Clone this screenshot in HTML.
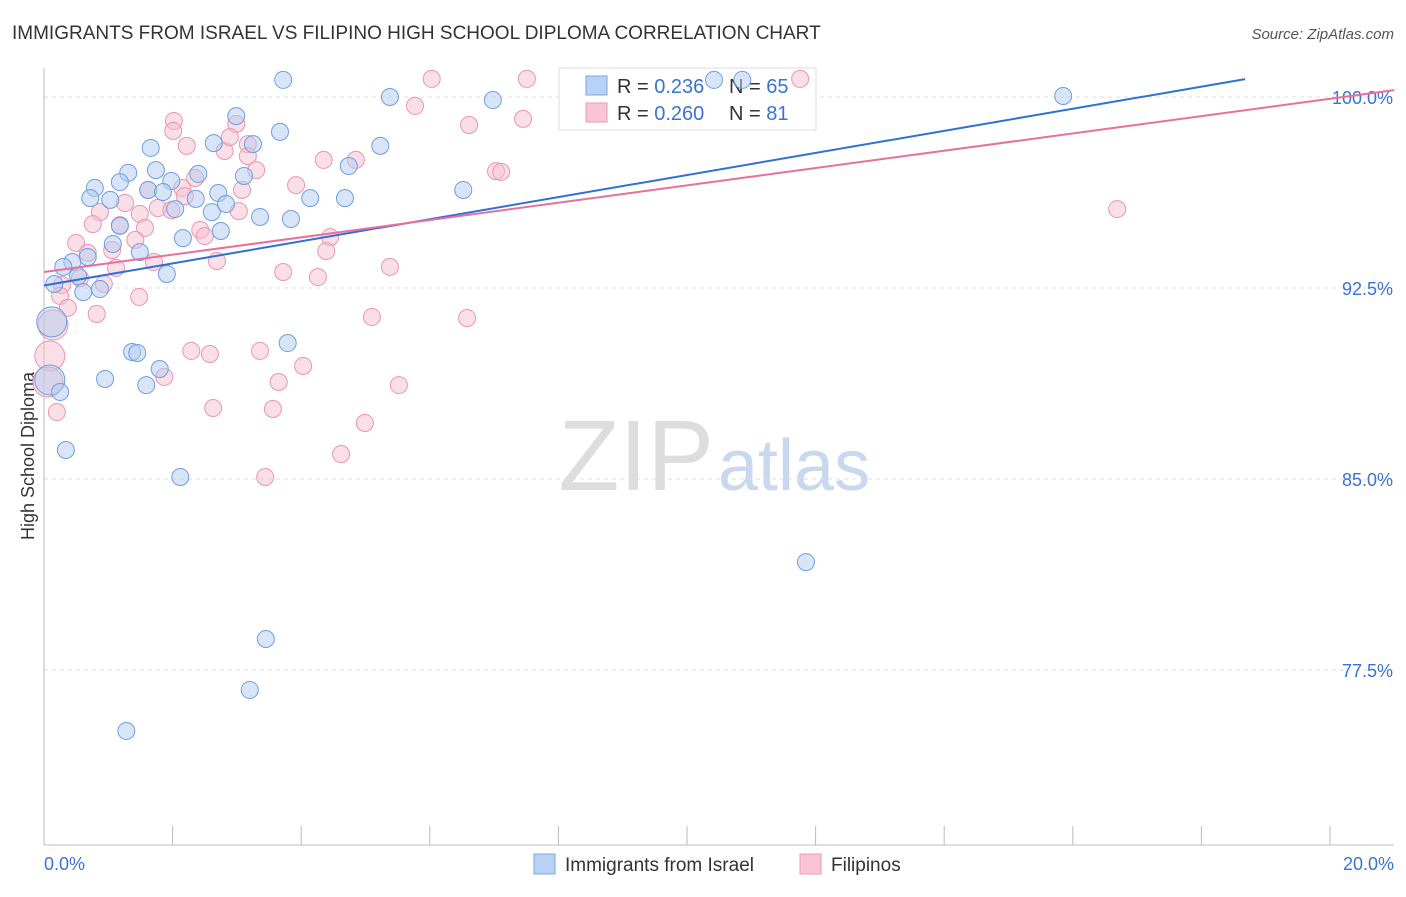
<!DOCTYPE html>
<html><head><meta charset="utf-8"><style>
body{margin:0;background:#fff;font-family:"Liberation Sans",sans-serif}
svg text{font-family:"Liberation Sans",sans-serif}
</style></head><body>
<svg id="c" width="1406" height="892">
<text x="12" y="39" font-size="19" fill="#333">IMMIGRANTS FROM ISRAEL VS FILIPINO HIGH SCHOOL DIPLOMA CORRELATION CHART</text>
<text x="1394" y="39" font-size="15" fill="#555" font-style="italic" text-anchor="end">Source: ZipAtlas.com</text>
<text x="714" y="490" font-size="100" fill="#ddd" text-anchor="end" font-family="Liberation Serif">ZIP</text>
<text x="718" y="490" font-size="72" fill="#c8d8ef">atlas</text>
<text transform="translate(34,456) rotate(-90)" font-size="18" fill="#333" text-anchor="middle">High School Diploma</text>
<g id="grid"></g>
<g>
<rect x="559" y="68" width="257" height="62" fill="#fff" stroke="#ddd"/>
<rect x="586" y="76" width="21" height="19" fill="#b9d1f5" stroke="#7aa6e6"/>
<rect x="586" y="103" width="21" height="19" fill="#f9c5d5" stroke="#eb9ab4"/>
<text x="617" y="93" font-size="20" fill="#333">R = <tspan fill="#3a73d0">0.236</tspan></text>
<text x="729" y="93" font-size="20" fill="#333">N = <tspan fill="#3a73d0">65</tspan></text>
<text x="617" y="120" font-size="20" fill="#333">R = <tspan fill="#3a73d0">0.260</tspan></text>
<text x="729" y="120" font-size="20" fill="#333">N = <tspan fill="#3a73d0"> 81</tspan></text>
</g>
<g id="marks"></g><g id="lines"></g>
<g>
<rect x="534" y="854" width="21" height="20" fill="#b9d1f5" stroke="#7aa6e6"/>
<text x="565" y="871" font-size="19" fill="#333">Immigrants from Israel</text>
<rect x="800" y="854" width="21" height="20" fill="#f9c5d5" stroke="#eb9ab4"/>
<text x="831" y="871" font-size="19" fill="#333">Filipinos</text>
</g>
</svg>
<script>
const yTicks=[100,92.5,85,77.5];
const yTickLabels=["100.0%","92.5%","85.0%","77.5%"];
const xTicks=[0,2,4,6,8,10,12,14,16,18,20];
const blueX=[3.72,10.42,10.86,15.85,5.38,6.98,2.99,3.67,2.64,3.25,5.23,1.66,4.74,1.74,1.31,2.40,1.18,0.79,1.98,1.62,1.85,2.71,3.11,0.72,1.03,4.14,4.68,6.52,2.36,2.04,2.61,2.83,3.36,3.84,1.18,2.75,2.16,1.07,1.49,0.68,0.44,0.30,0.53,1.91,0.16,0.87,0.61,0.12,3.79,1.37,1.45,1.80,0.95,1.59,0.09,0.25,0.34,2.12,11.85,3.45,3.20,1.28];
const blueY=[100.67,100.67,100.67,100.04,100.0,99.88,99.25,98.63,98.19,98.15,98.08,98.0,97.29,97.13,97.02,96.98,96.66,96.43,96.70,96.35,96.27,96.23,96.90,96.03,95.96,96.03,96.03,96.35,96.0,95.60,95.48,95.80,95.29,95.21,94.94,94.74,94.46,94.23,93.91,93.72,93.52,93.33,92.97,93.05,92.66,92.46,92.34,91.17,90.34,89.99,89.95,89.32,88.93,88.69,88.89,88.42,86.14,85.08,81.74,78.72,76.72,75.11];
const blueBig=[47,54];
const pinkX=[6.03,7.51,11.76,5.77,2.02,2.99,6.61,7.45,2.01,2.22,3.17,2.81,2.89,3.17,3.30,4.35,4.85,7.03,7.11,2.35,3.92,3.08,1.62,2.15,2.19,1.26,0.87,1.49,1.77,1.98,3.03,16.69,0.76,1.18,1.57,2.43,2.50,4.45,0.50,1.42,0.68,4.39,1.06,1.71,2.69,3.72,4.26,5.38,1.12,0.56,0.28,0.93,0.25,1.48,0.82,0.37,5.10,6.58,0.14,2.29,2.58,3.36,4.03,1.87,3.65,5.52,0.09,0.06,0.20,2.63,3.56,4.99,4.62,3.44];
const pinkY=[100.71,100.71,100.71,99.65,99.06,98.94,98.90,99.14,98.67,98.08,98.15,97.88,98.43,97.68,97.13,97.53,97.53,97.09,97.06,96.82,96.54,96.35,96.35,96.43,96.11,95.84,95.48,95.41,95.64,95.56,95.52,95.60,95.01,94.97,94.86,94.78,94.54,94.50,94.27,94.39,93.88,93.95,93.99,93.52,93.56,93.13,92.93,93.33,93.29,92.89,92.62,92.66,92.19,92.15,91.48,91.72,91.36,91.32,91.05,90.03,89.91,90.03,89.44,89.01,88.81,88.69,89.83,88.81,87.63,87.79,87.75,87.20,85.98,85.08];
const pinkBig=[58,66,67];
const blueTrend=[92.6,100.7];
const pinkTrend=[93.13,100.27];

const X=v=>44+v*64.3, Y=v=>97+(100-v)*25.47;
const NS="http://www.w3.org/2000/svg";
function mk(t,a,p){const e=document.createElementNS(NS,t);for(const k in a)e.setAttribute(k,a[k]);p.appendChild(e);return e;}
const grid=document.getElementById('grid'),marks=document.getElementById('marks'),lines=document.getElementById('lines');
yTicks.forEach((t,i)=>{
 const l=mk('line',{x1:44,x2:1394,y1:Y(t),y2:Y(t),stroke:'#ddd','stroke-dasharray':'4,4'},grid);
 
 
 const tx=mk('text',{x:1393,y:Y(t)+7,'font-size':18,fill:'#3a73d0','text-anchor':'end'},grid);
 tx.textContent=yTickLabels[i];
 
 
});
mk('line',{x1:44,x2:44,y1:68,y2:845,stroke:'#bbb'},grid);
mk('line',{x1:44,x2:1394,y1:845,y2:845,stroke:'#bbb'},grid);
xTicks.forEach(t=>{const l=mk('line',{x1:X(t),x2:X(t),y1:826,y2:845,stroke:'#bbb'},grid);
 
 });
const a=mk('text',{x:44,y:870,'font-size':18,fill:'#3a73d0'},grid);a.textContent='0.0%';


const b=mk('text',{x:1394,y:870,'font-size':18,fill:'#3a73d0','text-anchor':'end'},grid);b.textContent='20.0%';


function dots(xs,ys,big,fill,stroke,name){xs.forEach((x,i)=>{
 const c=mk('circle',{cx:X(x),cy:Y(ys[i]),r:big.includes(i)?15:8.5,fill:fill,stroke:stroke,'stroke-width':1,'fill-opacity':0.5},marks);
 
 });}
dots(pinkX,pinkY,pinkBig,'#f7bfd0','#eb94b1','filipino-point');
dots(blueX,blueY,blueBig,'#b2cbf2','#6e9ee3','israel-point');
const bl=mk('line',{x1:X(0),y1:Y(blueTrend[0]),x2:X(18.68),y2:Y(blueTrend[1]),stroke:'#2f6fd6','stroke-width':2},lines);


const pl=mk('line',{x1:X(0),y1:Y(pinkTrend[0]),x2:X(21),y2:Y(pinkTrend[1]),stroke:'#e8709a','stroke-width':2},lines);


</script>
</body></html>
